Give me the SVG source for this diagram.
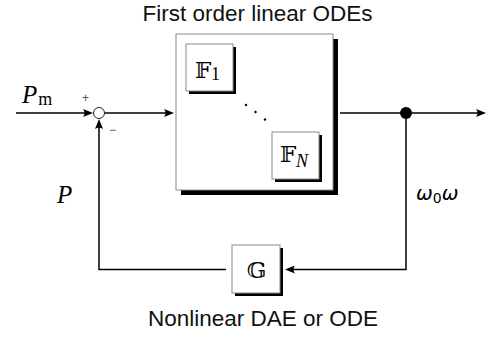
<svg xmlns="http://www.w3.org/2000/svg" width="488" height="339" viewBox="0 0 488 339">
<style>
.box{fill:#fff;stroke:#8a8a8a;stroke-width:1}
.sh{fill:#000}
.wire{fill:none;stroke:#000;stroke-width:1.5}
.lbl{font-family:"Liberation Sans",Arial,sans-serif;font-size:22.5px;fill:#111}
.math{font-family:"Liberation Serif","Times New Roman",serif;font-style:italic;fill:#000}
.bb{font-family:"DejaVu Serif","DejaVu Sans",serif;fill:#000}
.sign{font-family:"Liberation Sans",Arial,sans-serif;font-size:12px;fill:#555}
</style>
<defs>
<marker id="arr" viewBox="0 0 10 8" refX="7" refY="4" markerWidth="10" markerHeight="8" orient="auto" markerUnits="userSpaceOnUse">
<path d="M0,0 L10,4 L0,8 Q3,4 0,0 Z" fill="#000"/>
</marker>
</defs>
<rect width="488" height="339" fill="#fff"/>

<g id="connectors">
<line class="wire" x1="16" y1="113" x2="90" y2="113" marker-end="url(#arr)"/>
<line class="wire" x1="105" y1="113" x2="171" y2="113" marker-end="url(#arr)"/>
<line class="wire" x1="340" y1="113" x2="483" y2="113" marker-end="url(#arr)"/>
<polyline class="wire" points="406,113 406,269.5 288,269.5" marker-end="url(#arr)"/>
<polyline class="wire" points="226,269.5 99,269.5 99,122" marker-end="url(#arr)"/>
</g>

<g id="sum">
<circle cx="99" cy="113" r="5.5" fill="#fff" stroke="#222" stroke-width="1"/>
<text class="sign" x="82" y="102">+</text>
<text class="sign" x="109" y="134">−</text>
</g>

<g id="junction">
<circle cx="406" cy="113" r="6" fill="#000"/>
</g>

<g id="linear-block">
<rect class="sh" x="181" y="39" width="157" height="156"/>
<rect class="box" x="176" y="34" width="157" height="156"/>
<g id="F1">
<rect class="sh" x="189" y="47" width="47" height="47"/>
<rect class="box" x="186" y="44" width="47" height="47"/>
<text class="bb" x="195" y="78" font-size="23">𝔽</text>
<text font-family="Liberation Serif,serif" font-size="18" x="211" y="80">1</text>
</g>
<g id="dots" fill="#000">
<circle cx="246" cy="105" r="1.2"/>
<circle cx="255.5" cy="112" r="1.2"/>
<circle cx="265" cy="119.5" r="1.2"/>
</g>
<g id="FN">
<rect class="sh" x="275" y="135" width="47" height="47"/>
<rect class="box" x="272" y="132" width="47" height="47"/>
<text class="bb" x="280" y="162" font-size="23">𝔽</text>
<text class="math" font-size="18" x="296" y="167">N</text>
</g>
</g>

<g id="G">
<rect class="sh" x="235" y="248" width="48" height="48"/>
<rect class="box" x="232" y="245" width="48" height="48"/>
<text class="bb" x="256.5" y="277.5" font-size="23" text-anchor="middle">𝔾</text>
</g>

<g id="labels">
<text class="lbl" x="257.5" y="21" text-anchor="middle" font-size="25">First order linear ODEs</text>
<text class="lbl" x="263" y="326" text-anchor="middle">Nonlinear DAE or ODE</text>
<text class="math" x="22" y="103" font-size="25">P<tspan font-style="normal" font-size="18" dx="1" dy="2">m</tspan></text>
<text class="math" x="57" y="203" font-size="25">P</text>
<text x="416" y="200" font-family="DejaVu Sans,sans-serif" font-style="italic" font-size="20" fill="#000">ω<tspan font-style="normal" font-size="14" dy="3">0</tspan><tspan dy="-3">ω</tspan></text>
</g>
</svg>
